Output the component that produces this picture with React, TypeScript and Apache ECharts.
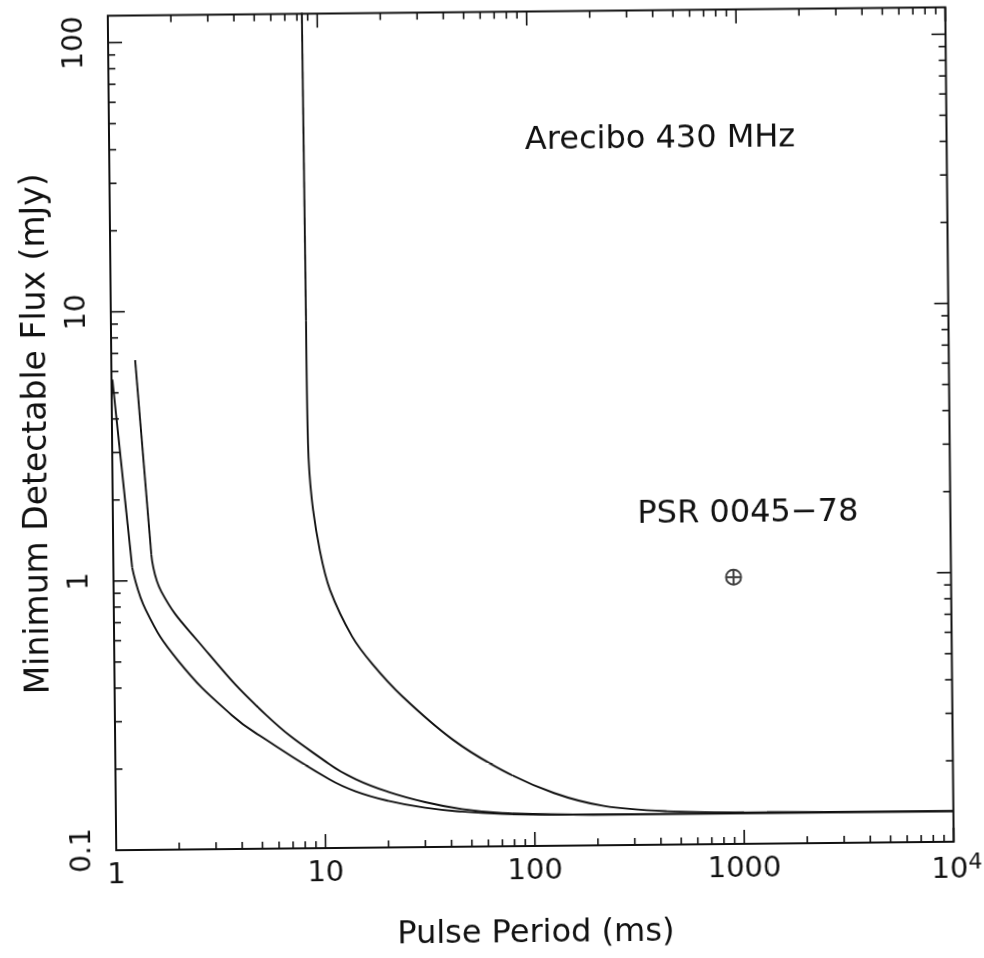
import React, { useEffect, useRef } from 'react';
import * as echarts from 'echarts';

// Axis extents
const X_MIN = 1;
const X_MAX = 10000;
const Y_MIN = 0.1;
const Y_MAX = 125.89;

// Tick values
const X_DECADES = [1, 10, 100, 1000, 10000];
const Y_DECADES = [0.1, 1, 10, 100];
const MINOR_STEPS = [2, 3, 4, 5, 6, 7, 8, 9];

// Curve A (lowest sensitivity curve); first segment is straight, the kink is at index 1
const periodA = [1.01, 1.23, 1.42, 2.03, 3.62, 5.26, 10.5, 14, 20, 30, 45, 70, 120, 300, 1000, 10000];
const fluxA = [5.6, 1.12, 0.78, 0.5, 0.314, 0.254, 0.18, 0.162, 0.149, 0.14, 0.135, 0.132, 0.1305, 0.13, 0.13, 0.13];

// Curve B; kink at index 1
const periodB = [1.3, 1.52, 1.69, 2.53, 5.25, 10.5, 14, 20, 30, 45, 70, 120, 300, 1000, 10000];
const fluxB = [6.6, 1.25, 0.91, 0.59, 0.315, 0.205, 0.18, 0.161, 0.147, 0.138, 0.133, 0.131, 0.13, 0.13, 0.13];

// Curve C (high DM); near-vertical part up to index 1
const periodC = [8.45, 8.55, 8.62, 8.92, 9.71, 10.8, 13.7, 17.1, 23.7, 41, 71, 124, 214, 430, 1000, 10000];
const fluxC = [130, 9.1, 3.2, 2.0, 1.27, 0.91, 0.61, 0.48, 0.363, 0.25, 0.191, 0.157, 0.14, 0.133, 0.131, 0.13];

// Pulsar point
const psrPeriod = [915];
const psrFlux = [0.98];

const FONT = 'DejaVu Sans';
const INK = '#111';

function pairs(xs: number[], ys: number[]) {
  return xs.map((x, i) => [x, ys[i]]);
}

function lineSeries(data: number[][], smooth: number | boolean) {
  return {
    type: 'line',
    data,
    showSymbol: false,
    symbol: 'none',
    smooth,
    lineStyle: { color: INK, width: 1.9 },
  };
}

export default function App() {
  const ref = useRef<HTMLDivElement>(null);
  useEffect(() => {
    if (!ref.current) return;
    const chart = echarts.init(ref.current, undefined, { renderer: 'svg' });

    const tickData: number[][] = [];
    X_DECADES.forEach((d) => tickData.push([d, Y_MIN, 0]));
    X_DECADES.slice(0, -1).forEach((d) => MINOR_STEPS.forEach((m) => tickData.push([d * m, Y_MIN, 1])));
    Y_DECADES.forEach((d) => tickData.push([X_MIN, d, 2]));
    Y_DECADES.forEach((d) =>
      MINOR_STEPS.forEach((m) => {
        const v = d * m;
        if (v < Y_MAX) tickData.push([X_MIN, v, 3]);
      })
    );

    const A = pairs(periodA, fluxA);
    const B = pairs(periodB, fluxB);
    const C = pairs(periodC, fluxC);

    const option: any = {
      animation: false,
      backgroundColor: '#fff',
      grid: {
        left: 112,
        right: 34.5,
        top: 11.5,
        bottom: 112,
        show: true,
        borderColor: INK,
        borderWidth: 2,
        backgroundColor: 'transparent',
      },
      xAxis: {
        type: 'log',
        logBase: 10,
        min: X_MIN,
        max: X_MAX,
        axisLine: { show: false },
        axisTick: { show: false },
        splitLine: { show: false },
        axisLabel: {
          margin: 8,
          fontFamily: FONT,
          fontSize: 29,
          color: INK,
          showMinLabel: true,
          showMaxLabel: true,
          formatter: (v: number) => {
            const l = Math.log10(v);
            if (Math.abs(l - Math.round(l)) > 1e-6) return '';
            if (Math.round(l) === 4) return '{b|10}{sup|4}';
            return String(Math.round(v));
          },
          rich: {
            b: { fontFamily: FONT, fontSize: 29, color: INK, padding: [0, 0, 0, 6] },
            sup: { fontFamily: FONT, fontSize: 22, color: INK, padding: [0, 0, 14, 0] },
          },
        },
        name: 'Pulse Period (ms)',
        nameLocation: 'middle',
        nameGap: 69,
        nameTextStyle: { fontFamily: FONT, fontSize: 32, color: INK },
      },
      yAxis: {
        type: 'log',
        logBase: 10,
        min: Y_MIN,
        max: Y_MAX,
        axisLine: { show: false },
        axisTick: { show: false },
        splitLine: { show: false },
        axisLabel: {
          rotate: 90,
          margin: 22,
          fontFamily: FONT,
          fontSize: 28,
          color: INK,
          formatter: (v: number) => {
            const l = Math.log10(v);
            if (Math.abs(l - Math.round(l)) > 1e-6) return '';
            return v < 1 ? '0.1' : String(Math.round(v));
          },
        },
        name: 'Minimum Detectable Flux (mJy)',
        nameLocation: 'middle',
        nameGap: 61,
        nameRotate: 90,
        nameTextStyle: { fontFamily: FONT, fontSize: 33, color: INK },
      },
      graphic: [
        {
          type: 'text',
          x: 663,
          y: 138,
          style: {
            text: 'Arecibo 430 MHz',
            fontFamily: FONT,
            fontSize: 32,
            fill: INK,
            textAlign: 'center',
            textVerticalAlign: 'middle',
          },
        },
        {
          type: 'text',
          x: 747,
          y: 513,
          style: {
            text: 'PSR 0045\u221278',
            fontFamily: FONT,
            fontSize: 32,
            fill: INK,
            textAlign: 'center',
            textVerticalAlign: 'middle',
          },
        },
      ],
      series: [
        {
          type: 'custom',
          clip: false,
          silent: true,
          data: tickData,
          renderItem: (params: any, api: any) => {
            const a = api.value(0);
            const b = api.value(1);
            const kind = api.value(2);
            const len = kind === 0 || kind === 2 ? 14 : 7;
            const style = { stroke: INK, lineWidth: 1.6 };
            if (kind < 2) {
              const p = api.coord([a, Y_MIN]);
              const t = api.coord([a, Y_MAX]);
              return {
                type: 'group',
                children: [
                  { type: 'line', shape: { x1: p[0], y1: p[1], x2: p[0], y2: p[1] - len }, style },
                  { type: 'line', shape: { x1: t[0], y1: t[1], x2: t[0], y2: t[1] + len }, style },
                ],
              };
            }
            const l = api.coord([X_MIN, b]);
            const r = api.coord([X_MAX, b]);
            return {
              type: 'group',
              children: [
                { type: 'line', shape: { x1: l[0], y1: l[1], x2: l[0] + len, y2: l[1] }, style },
                { type: 'line', shape: { x1: r[0], y1: r[1], x2: r[0] - len, y2: r[1] }, style },
              ],
            };
          },
        },
        lineSeries(A.slice(0, 2), false),
        lineSeries(A.slice(1), 0.45),
        lineSeries(B.slice(0, 2), false),
        lineSeries(B.slice(1), 0.45),
        lineSeries(C.slice(0, 2), false),
        lineSeries(C.slice(1), 0.35),
        {
          type: 'scatter',
          data: pairs(psrPeriod, psrFlux),
          symbol: 'path://M0,-10A10,10,0,1,1,0,10A10,10,0,1,1,0,-10ZM-10,0L10,0M0,-10L0,10',
          symbolSize: 15,
          itemStyle: { color: 'none', borderColor: INK, borderWidth: 2 },
        },
      ],
    };
    chart.setOption(option);
    return () => chart.dispose();
  }, []);

  return (
    <div
      style={{
        position: 'fixed',
        left: 0,
        top: 0,
        width: 984,
        height: 958,
        background: '#fff',
        transform: 'rotate(-0.58deg)',
        transformOrigin: '530.75px 428.75px',
      }}
    >
      <div ref={ref} style={{ width: 984, height: 958 }} />
    </div>
  );
}
